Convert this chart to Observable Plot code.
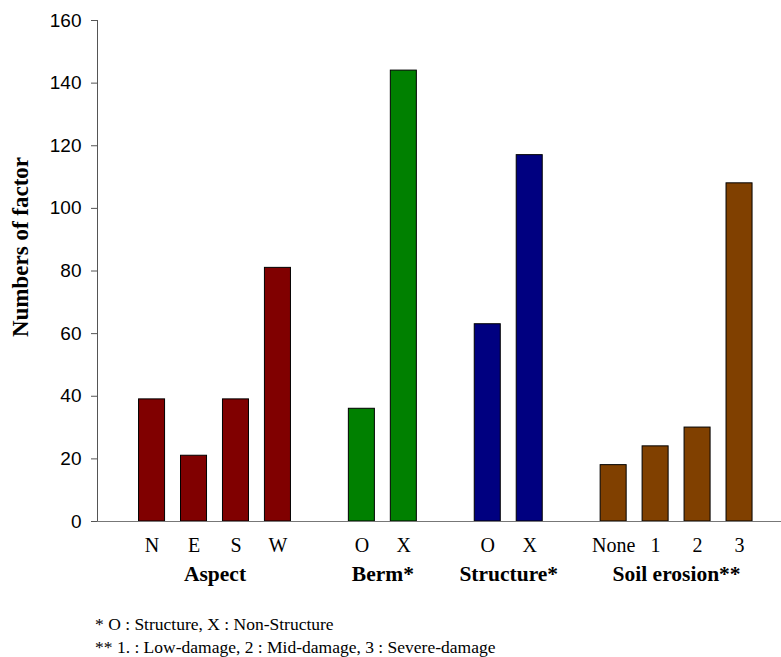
<!DOCTYPE html>
<html>
<head>
<meta charset="utf-8">
<script src="https://cdn.jsdelivr.net/npm/d3@7"></script>
<script src="https://cdn.jsdelivr.net/npm/@observablehq/plot@0.6"></script>
<style>
  body { margin: 0; background: #fff; }
  #notes { font-family: "Liberation Serif", "Times New Roman", serif; font-size: 17.5px; line-height: 23px; padding-left: 95px; padding-top: 5px; color: #000; }
</style>
</head>
<body>
<div id="chart"></div>
<div id="notes">
  <div>* O : Structure, X : Non-Structure</div>
  <div>** 1. : Low-damage, 2 : Mid-damage, 3 : Severe-damage</div>
</div>
<script>
const groupNames = ["Aspect", "Berm*", "Structure*", "Soil erosion**"];
const groupColors = ["#800000", "#008000", "#000080", "#804000"];
const categories = [
  ["N", "E", "S", "W"],
  ["O", "X"],
  ["O", "X"],
  ["None", "1", "2", "3"]
];
const values = [
  [39, 21, 39, 81],
  [36, 144],
  [63, 117],
  [18, 24, 30, 108]
];
const yTicks = [0, 20, 40, 60, 80, 100, 120, 140, 160];

// Build rows: one empty slot between groups
const rows = [];
const groupRows = [];
let slot = 0;
categories.forEach((cats, g) => {
  const slots = [];
  cats.forEach((c, i) => {
    rows.push({group: groupNames[g], label: c, value: values[g][i], slot, color: groupColors[g]});
    slots.push(slot);
    slot++;
  });
  groupRows.push({name: groupNames[g], slot: d3.mean(slots)});
  slot++;
});
const labelBySlot = new Map(rows.map(d => [d.slot, d.label]));

const plot = Plot.plot({
  width: 781,
  height: 608,
  marginLeft: 97,
  marginRight: 0,
  marginTop: 20,
  marginBottom: 87,
  style: {background: "#fff", overflow: "visible"},
  x: {domain: [-1.3, 15], axis: null},
  y: {domain: [0, 160], axis: null},
  color: {type: "identity"},
  marks: [
    Plot.rectY(rows, {x1: d => d.slot - 0.31, x2: d => d.slot + 0.31, y: "value", fill: "color", stroke: "#000", strokeWidth: 1}),
    Plot.frame({anchor: "left", stroke: "#555"}),
    Plot.frame({anchor: "bottom", stroke: "#777"}),
    Plot.axisY({ticks: yTicks, tickSize: 6, text: null, label: null, color: "#555"}),
    Plot.text(yTicks, {y: d => d, text: d => String(d), frameAnchor: "left", textAnchor: "end", dx: -16, lineAnchor: "middle", fontSize: 19, fontFamily: "'Liberation Sans', Arial, sans-serif", fill: "#000"}),
    Plot.axisX({ticks: rows.map(d => d.slot), tickFormat: d => labelBySlot.get(d), tickSize: 0, tickPadding: 16, label: null, fontSize: 20, fontFamily: "'Liberation Serif', 'Times New Roman', serif", fill: "#000"}),
    Plot.text(groupRows, {x: "slot", text: "name", frameAnchor: "bottom", dy: 53, lineAnchor: "middle", fontSize: 21.5, fontWeight: "bold", fontFamily: "'Liberation Serif', 'Times New Roman', serif", fill: "#000"}),
    Plot.text(["Numbers of factor"], {frameAnchor: "left", textAnchor: "middle", dx: -77, dy: -24, rotate: -90, fontSize: 23, fontWeight: "bold", fontFamily: "'Liberation Serif', 'Times New Roman', serif", fill: "#000"})
  ]
});
document.getElementById("chart").appendChild(plot);
</script>
</body>
</html>
